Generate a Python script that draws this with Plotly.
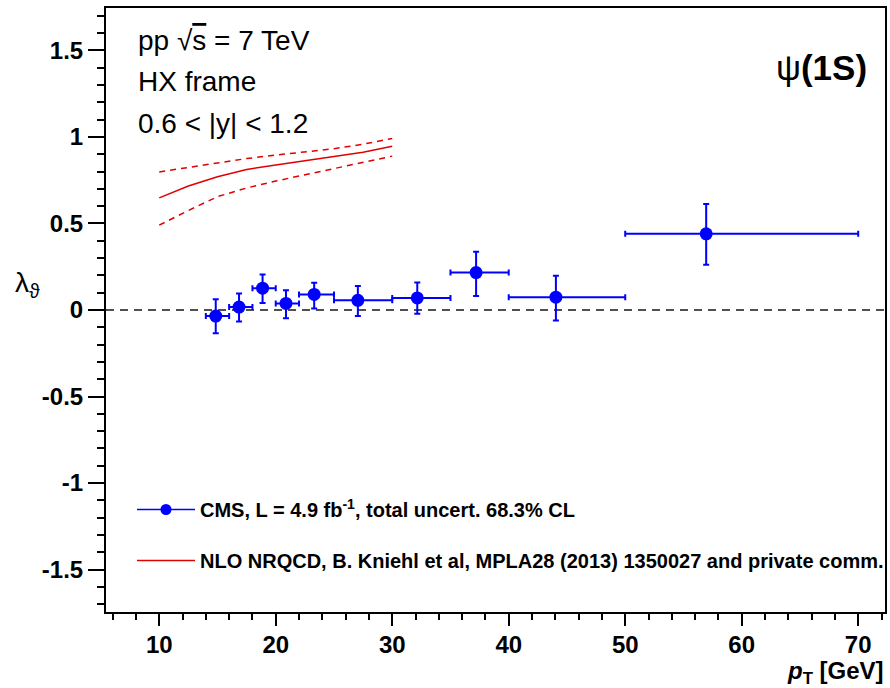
import plotly.graph_objects as go

# ---------------- data ----------------
pt_lo = [14, 16, 18, 20, 22, 25, 30, 35, 40, 50]
pt_hi = [16, 18, 20, 22, 25, 30, 35, 40, 50, 70]
pt_mean = [14.85, 16.85, 18.87, 20.88, 23.3, 27.05, 32.15, 37.2, 44.05, 56.95]
lam = [-0.035, 0.017, 0.126, 0.038, 0.09, 0.056, 0.07, 0.216, 0.074, 0.44]
err_up = [0.097, 0.078, 0.079, 0.076, 0.068, 0.082, 0.089, 0.121, 0.124, 0.172]
err_dn = [0.099, 0.083, 0.085, 0.086, 0.081, 0.091, 0.091, 0.135, 0.134, 0.178]

th_pt = [10, 12.5, 15, 17.5, 20, 22.5, 25, 27.5, 30]
th_cen = [0.648, 0.716, 0.770, 0.812, 0.838, 0.862, 0.885, 0.912, 0.946]
th_up = [0.798, 0.825, 0.850, 0.875, 0.895, 0.912, 0.932, 0.958, 0.991]
th_dn = [0.490, 0.575, 0.655, 0.705, 0.745, 0.780, 0.815, 0.850, 0.889]

x_ticks = [10, 20, 30, 40, 50, 60, 70]
y_ticks = [-1.5, -1, -0.5, 0, 0.5, 1, 1.5]
y_ticktext = ["-1.5", "-1", "-0.5", "0", "0.5", "1", "1.5"]

BLUE = "rgb(0,0,255)"
RED = "rgb(225,0,0)"
FONT = "Liberation Sans, Arial, Helvetica, sans-serif"

fig = go.Figure()

# theory band edges (dashed)
fig.add_trace(go.Scatter(x=th_pt, y=th_up, mode="lines", showlegend=False,
                         line=dict(color=RED, width=1.5, dash="6px,5px")))
fig.add_trace(go.Scatter(x=th_pt, y=th_dn, mode="lines", showlegend=False,
                         line=dict(color=RED, width=1.5, dash="6px,5px")))

# data
fig.add_trace(go.Scatter(
    x=pt_mean, y=lam, mode="markers", showlegend=False,
    marker=dict(color=BLUE, size=13, line=dict(width=0)),
    error_x=dict(type="data", symmetric=False,
                 array=[h - m for h, m in zip(pt_hi, pt_mean)],
                 arrayminus=[m - l for l, m in zip(pt_lo, pt_mean)],
                 color=BLUE, thickness=2, width=3),
    error_y=dict(type="data", symmetric=False, array=err_up, arrayminus=err_dn,
                 color=BLUE, thickness=2, width=3),
))
# legend proxy for data (line + marker symbol, as in the reference legend)
fig.add_trace(go.Scatter(
    x=[None], y=[None], mode="lines+markers", legendgroup="a",
    name="CMS, L = 4.9 fb<sup>-1</sup>, total uncert. 68.3% CL",
    marker=dict(color=BLUE, size=11), line=dict(color=BLUE, width=1.5)))

# theory central
fig.add_trace(go.Scatter(x=th_pt, y=th_cen, mode="lines", legendgroup="b",
                         name="NLO NRQCD, B. Kniehl et al, MPLA28 (2013) 1350027 and private comm.",
                         line=dict(color=RED, width=1.5)))

# zero line
fig.add_shape(type="line", xref="paper", x0=0, x1=1, yref="y", y0=0, y1=0,
              line=dict(color="rgb(80,80,80)", width=2, dash="8px,6px"), layer="below")

axis_common = dict(showline=True, linecolor="black", linewidth=2, mirror=True,
                   showgrid=False, zeroline=False, ticks="outside", tickcolor="black",
                   tickwidth=1.5, tickfont=dict(family=FONT, size=24, color="black", weight="bold"))

fig.update_xaxes(range=[5.43, 72.3], tickvals=x_ticks, ticklen=12, ticklabelstandoff=-2,
                 minor=dict(dtick=2, tick0=0, ticklen=6, ticks="outside", tickcolor="black", tickwidth=1.5),
                 **axis_common)
fig.update_yaxes(range=[-1.745, 1.745], tickvals=y_ticks, ticktext=y_ticktext, ticklen=16,
                 minor=dict(dtick=0.1, tick0=0, ticklen=7, ticks="outside", tickcolor="black", tickwidth=1.5),
                 **axis_common)

# texts
txt = dict(xref="paper", yref="paper", showarrow=False, xanchor="left", yanchor="middle",
           font=dict(family=FONT, size=28, color="black"))
fig.add_annotation(x=(136 - 106) / 779, y=1 - (40 - 8) / 604,
                   text="pp √<span style='text-decoration:overline'>s</span> = 7 TeV", **txt)
fig.add_annotation(x=(136 - 106) / 779, y=1 - (81 - 8) / 604, text="HX frame", **txt)
fig.add_annotation(x=(136 - 106) / 779, y=1 - (123 - 8) / 604, text="0.6 &lt; |y| &lt; 1.2", **txt)

fig.add_annotation(x=(869 - 106) / 779, y=1 - (67 - 8) / 604, xref="paper", yref="paper",
                   showarrow=False, xanchor="right", yanchor="middle",
                   text="ψ<b>(1S)</b>", font=dict(family=FONT, size=35, color="black"))

# axis titles
fig.add_annotation(x=(886 - 106) / 779, y=-(672 - 612) / 604, xref="paper", yref="paper",
                   showarrow=False, xanchor="right", yanchor="middle",
                   text="<b><i>p</i><sub>T</sub> [GeV]</b>", font=dict(family=FONT, size=24, color="black"))
fig.add_annotation(x=-(106 - 13) / 779, y=1 - (284 - 8) / 604, xref="paper", yref="paper",
                   showarrow=False, xanchor="left", yanchor="middle",
                   text="λ<sub>ϑ</sub>", font=dict(family=FONT, size=28, color="black"))

fig.update_layout(
    width=890, height=688,
    margin=dict(l=106, r=5, t=8, b=76, autoexpand=False),
    paper_bgcolor="white", plot_bgcolor="white",
    legend=dict(x=(132 - 106) / 779, y=1 - (490 - 8) / 604, xanchor="left", yanchor="top",
                bgcolor="rgba(0,0,0,0)", font=dict(family=FONT, size=20, color="black", weight="bold"),
                tracegroupgap=22, traceorder="grouped", itemwidth=58),
)

fig.write_html("out.html")
